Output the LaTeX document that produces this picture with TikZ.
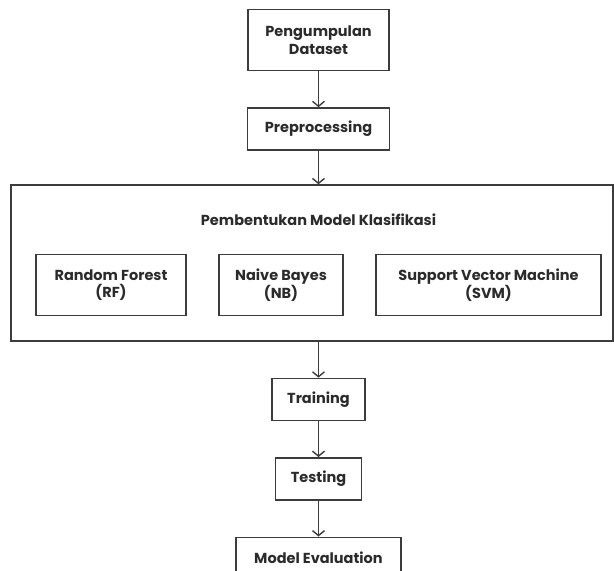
\documentclass[tikz,border=0pt]{standalone}
\usepackage{fontspec}
\setmainfont{Poppins}
\usetikzlibrary{arrows.meta, positioning}
\definecolor{ink}{HTML}{2B2B2B}
\definecolor{edge}{HTML}{3C3C3C}

\begin{document}
\begin{tikzpicture}[
    x=1pt, y=-1pt,
    font=\fontsize{14.5}{17.5}\selectfont\bfseries,
    box/.style={draw=edge, line width=1.4pt, text=ink, align=center,
                minimum height=42pt, inner sep=2pt},
    tall/.style={box, minimum height=61pt},
    group/.style={draw=edge, line width=1.4pt, minimum width=602pt, minimum height=156pt},
    title/.style={text=ink},
    ar/.style={-{Straight Barb[length=5pt, width=12pt]}, edge, line width=1.4pt}
  ]
    \clip (0,0) rectangle (614,571);
    \node[tall, minimum width=141pt] (data) at (318.5,40) {Pengumpulan\\ Dataset};
    \node[box, minimum width=142pt, below=36pt of data] (prep) {Preprocessing};
    \node[group] (cls) at (312,263) {};
    \node[title] (clst) at (318.5,220) {Pembentukan Model Klasifikasi};
    \node[tall, minimum width=150pt] (rf) at (111,285) {Random Forest\\ (RF)};
    \node[tall, minimum width=124pt] (nb) at (281,285) {Naive Bayes\\ (NB)};
    \node[tall, minimum width=225pt] (svm) at (488.5,285) {Support Vector Machine\\ (SVM)};
    \coordinate (clsout) at (prep |- cls.south);
    \node[box, minimum width=93pt, below=36pt of clsout] (train) {Training};
    \node[box, minimum width=86pt, below=36pt of train] (test) {Testing};
    \node[box, minimum width=165pt, below=36pt of test] (eval) {Model Evaluation};
    \draw[ar] (data)--(prep);  \draw[ar] (prep)--(prep |- cls.north);
    \draw[ar] (clsout)--(train);  \draw[ar] (train)--(test);  \draw[ar] (test)--(eval);
  \end{tikzpicture}
\end{document}
